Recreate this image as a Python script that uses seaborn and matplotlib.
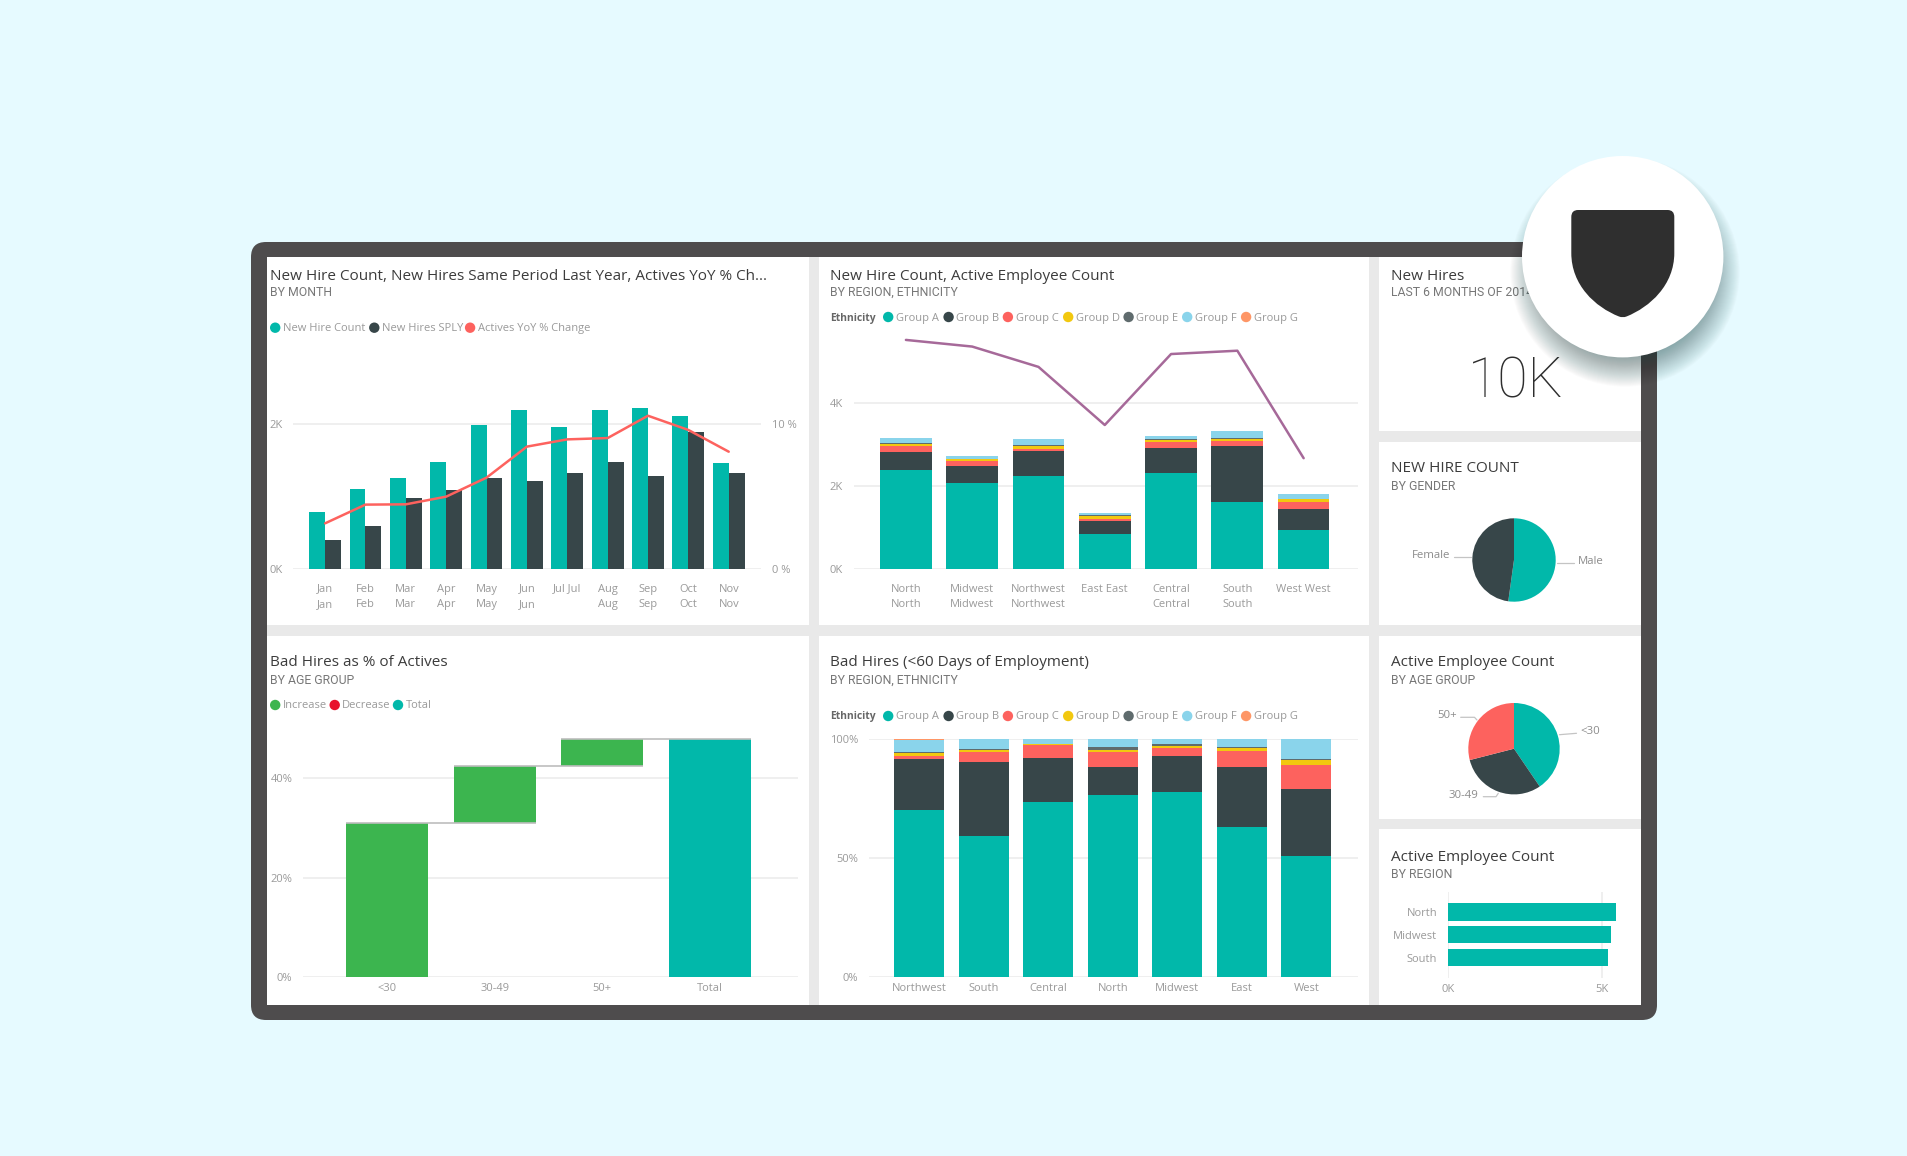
import numpy as np
import pandas as pd
import seaborn as sns
import matplotlib.pyplot as plt
from matplotlib.patches import Circle, FancyBboxPatch, PathPatch, Rectangle
from matplotlib.path import Path

W, H = 1908, 1156

TEAL = '#01b8aa'
DARK = '#374649'
CORAL = '#fd625e'
YELLOW = '#f2c80f'
SLATE = '#5f6b6d'
SKY = '#8ad4eb'
ORANGE = '#fe9666'
PURPLE = '#a66999'
GREEN = '#3cb54f'
RED = '#e8112d'
GRID = '#eeeeee'
TICK = '#9a9a9a'

# new hires by month
months = ['Jan\nJan', 'Feb\nFeb', 'Mar\nMar', 'Apr\nApr', 'May\nMay', 'Jun\nJun', 'Jul Jul',
          'Aug\nAug', 'Sep\nSep', 'Oct\nOct', 'Nov\nNov']
new_hires = [0.78, 1.11, 1.25, 1.48, 1.99, 2.19, 1.96, 2.19, 2.22, 2.11, 1.46]
new_hires_sply = [0.40, 0.59, 0.98, 1.09, 1.26, 1.21, 1.32, 1.47, 1.28, 1.89, 1.32]
actives_yoy = [3.15, 4.44, 4.46, 4.99, 6.30, 8.44, 8.94, 9.03, 10.57, 9.59, 8.09]

# new hires + actives by region
groups = ['Group A', 'Group B', 'Group C', 'Group D', 'Group E', 'Group F', 'Group G']
group_colors = [TEAL, DARK, CORAL, YELLOW, SLATE, SKY, ORANGE]
regions = ['North\nNorth', 'Midwest\nMidwest', 'Northwest\nNorthwest', 'East East',
           'Central\nCentral', 'South\nSouth', 'West West']
hire_a = [2.39, 2.08, 2.25, 0.84, 2.31, 1.61, 0.94]
hire_b = [0.43, 0.40, 0.59, 0.31, 0.61, 1.36, 0.51]
hire_c = [0.15, 0.13, 0.06, 0.06, 0.15, 0.11, 0.16]
hire_d = [0.04, 0.03, 0.06, 0.06, 0.03, 0.06, 0.07]
hire_e = [0.02, 0.02, 0.02, 0.02, 0.03, 0.02, 0.01]
hire_f = [0.13, 0.06, 0.15, 0.06, 0.08, 0.17, 0.11]
hire_g = [0.00, 0.00, 0.00, 0.00, 0.00, 0.00, 0.00]
active_line = [5.52, 5.36, 4.87, 3.47, 5.18, 5.26, 2.67]

# bad hires waterfall
age_groups = ['<30', '30-49', '50+', 'Total']
bad_steps = [31.0, 11.4, 5.4]

# bad hires by region, percent
bad_regions = ['Northwest', 'South', 'Central', 'North', 'Midwest', 'East', 'West']
bad_a = [70.3, 59.2, 73.7, 76.4, 77.9, 62.9, 51.0]
bad_b = [21.5, 31.2, 18.5, 11.9, 15.0, 25.2, 27.9]
bad_c = [1.0, 4.2, 5.1, 6.3, 3.3, 6.9, 10.2]
bad_d = [1.2, 0.7, 0.6, 0.7, 0.9, 1.4, 2.2]
bad_e = [0.4, 0.6, 0.1, 1.4, 0.7, 0.1, 0.4]
bad_f = [5.2, 4.2, 1.9, 3.2, 2.2, 3.5, 8.3]
bad_g = [0.4, 0.0, 0.1, 0.1, 0.0, 0.0, 0.0]

gender_share = [52.2, 47.8]
age_share = [40.5, 30.5, 29.0]
active_regions = ['North', 'Midwest', 'South']
active_by_region = [5.47, 5.31, 5.22]

sns.set_theme(style='white')
plt.rcParams['font.family'] = ['Open Sans', 'DejaVu Sans']

fig = plt.figure(figsize=(W / 100, H / 100), dpi=100, facecolor='#e6faff')


def px_axes(x0, x1, y_top, y_bottom, zorder=2):
    ax = fig.add_axes([x0 / W, 1 - y_bottom / H, (x1 - x0) / W, (y_bottom - y_top) / H], zorder=zorder)
    ax.patch.set_alpha(0)
    sns.despine(ax=ax, left=True, bottom=True)
    return ax


def style_axis(ax, pad_x=10, grid='y'):
    ax.set_xlabel('')
    ax.set_ylabel('')
    ax.tick_params(axis='x', length=0, pad=pad_x, labelsize=8.0, labelcolor=TICK)
    ax.tick_params(axis='y', length=0, pad=7.6, labelsize=8.0, labelcolor=TICK)
    for label in ax.get_xticklabels():
        label.set_linespacing(1.55)
    ax.set_axisbelow(True)
    ax.grid(True, axis=grid, color=GRID, lw=1.3)


def stack_bars(ax, cats, series, width):
    bottom = np.zeros(len(cats))
    for vals, color in zip(series, group_colors):
        sns.barplot(x=cats, y=vals, bottom=bottom, color=color, width=width, saturation=1,
                    linewidth=0, ax=ax)
        bottom += np.array(vals)


# page: background, frame, panels, titles
page = px_axes(0, W, 0, H, zorder=0)
page.set_xlim(0, W)
page.set_ylim(H, 0)
page.axis('off')
page.add_patch(FancyBboxPatch((251, 242), 1406, 778, boxstyle='round,pad=0,rounding_size=15',
                              fc='#4e4c4d', lw=0))
page.add_patch(Rectangle((267, 257), 1374, 748, fc='#e9e9e9', lw=0))
panels = [(267, 257, 809, 625), (819, 257, 1369, 625), (1379, 257, 1641, 431), (1379, 442, 1641, 625),
          (267, 636, 809, 1005), (819, 636, 1369, 1005), (1379, 636, 1641, 819), (1379, 829, 1641, 1005)]
for x0, y0, x1, y1 in panels:
    page.add_patch(Rectangle((x0, y0), x1 - x0, y1 - y0, fc='white', lw=0))


def heading(x, y, title, sub, dy=2):
    page.text(x, y + dy, title, fontsize=11.0, color='#3c3c3c', va='center', ha='left')
    page.text(x, y + 18.5, sub, fontsize=8.8, color='#777777', va='center', ha='left',
              family=['Roboto', 'DejaVu Sans'])


def legend_row(y, labels, colors, dots, texts):
    for lab, col, cx, tx in zip(labels, colors, dots, texts):
        page.add_patch(Circle((cx, y), 5.2, fc=col, lw=0))
        page.text(tx, y + 1, lab, fontsize=8.0, color=TICK, va='center', ha='left')


heading(269.6, 274, 'New Hire Count, New Hires Same Period Last Year, Actives YoY % Ch...', 'BY MONTH')
heading(830, 274, 'New Hire Count, Active Employee Count', 'BY REGION, ETHNICITY')
heading(1390.7, 274, 'New Hires', 'LAST 6 MONTHS OF 2014')
heading(1390.7, 468, 'NEW HIRE COUNT', 'BY GENDER', dy=1)
heading(269.6, 662, 'Bad Hires as % of Actives', 'BY AGE GROUP', dy=1)
heading(830, 662, 'Bad Hires (<60 Days of Employment)', 'BY REGION, ETHNICITY', dy=1)
heading(1390.7, 662, 'Active Employee Count', 'BY AGE GROUP', dy=1)
heading(1390.7, 856.5, 'Active Employee Count', 'BY REGION', dy=1)

legend_row(327.7, ['New Hire Count', 'New Hires SPLY', 'Actives YoY % Change'], [TEAL, DARK, CORAL],
           [275.2, 374.3, 470.1], [282.6, 381.7, 477.9])
legend_row(705, ['Increase', 'Decrease', 'Total'], [GREEN, RED, TEAL],
           [275.2, 334.7, 398], [282.6, 342.1, 405.8])
dots = [888.2, 948.6, 1007.9, 1068.2, 1128.6, 1187.2, 1246.1]
texts = [896.1, 956.4, 1015.7, 1075.7, 1136.4, 1195, 1253.6]
for y in (317, 716):
    page.text(830, y + 1, 'Ethnicity', fontsize=7.4, color='#666666', fontweight='bold', va='center', ha='left')
    legend_row(y, groups, group_colors, dots, texts)

page.text(1515.5, 382, '10K', fontsize=40, color='#2e2e2e', va='center', ha='center',
          family=['Roboto', 'DejaVu Sans'], fontweight='light')

# new hires by month
ax = px_axes(293.3, 761, 569 - 3.1 * 72.5, 569)
df = pd.DataFrame({'month': months * 2, 'count': new_hires + new_hires_sply,
                   'series': ['New Hire Count'] * 11 + ['New Hires SPLY'] * 11})
sns.barplot(df, x='month', y='count', hue='series', palette=[TEAL, DARK], width=0.79, gap=0,
            saturation=1, linewidth=0, legend=False, ax=ax)
ax.set_xlim(-0.788, 10.8)
ax.set_ylim(0, 3.1)
ax.set_yticks([0, 2], ['0K', '2K'])
style_axis(ax, pad_x=10.5)
ax2 = ax.twinx()
ax2.patch.set_alpha(0)
sns.despine(ax=ax2, left=True, right=True, bottom=True)
sns.lineplot(x=np.arange(len(months)), y=actives_yoy, color=CORAL, lw=1.8, errorbar=None, ax=ax2)
ax2.set_ylim(0, 15.5)
ax2.set_yticks([0, 10], ['0 %', '10 %'])
ax2.tick_params(axis='y', length=0, pad=8, labelsize=8.0, labelcolor=TICK)
ax2.set_ylabel('')

# hires by region, stacked, with active employee line
ax = px_axes(853.6, 1358, 569 - 5.8 * 41.5, 569)
stack_bars(ax, regions, [hire_a, hire_b, hire_c, hire_d, hire_e, hire_f, hire_g], 0.78)
sns.lineplot(x=np.arange(len(regions)), y=active_line, color=PURPLE, lw=1.8, errorbar=None, ax=ax)
ax.set_xlim(-0.789, 6.82)
ax.set_ylim(0, 5.8)
ax.set_yticks([0, 2, 4], ['0K', '2K', '4K'])
style_axis(ax, pad_x=10.5)

# waterfall, one bar per call so each keeps its own floor
ax = px_axes(302.9, 797.5, 977.3 - 50 * 4.975, 977.3)
tops = np.cumsum(bad_steps)
starts = np.concatenate([[0], tops[:-1]])
for cat, step, start in zip(age_groups, bad_steps, starts):
    sns.barplot(x=[cat], y=[step], bottom=start, order=age_groups, color=GREEN, width=0.765,
                saturation=1, linewidth=0, ax=ax)
sns.barplot(x=[age_groups[-1]], y=[tops[-1]], order=age_groups, color=TEAL, width=0.765,
            saturation=1, linewidth=0, ax=ax)
for i, top in enumerate(tops):
    ax.hlines(top, i - 0.3825, i + 1.3825, color='#bdbdbd', lw=1.2, zorder=3)
ax.set_xlim(-0.785, 3.816)
ax.set_ylim(0, 50)
ax.set_yticks([0, 20, 40], ['0%', '20%', '40%'])
style_axis(ax, pad_x=4)

# bad hires, 100% stacked
ax = px_axes(868.6, 1358, 739, 977.3)
stack_bars(ax, bad_regions, [bad_a, bad_b, bad_c, bad_d, bad_e, bad_f, bad_g], 0.776)
ax.set_xlim(-0.786, 6.80)
ax.set_ylim(0, 100)
ax.set_yticks([0, 50, 100], ['0%', '50%', '100%'])
style_axis(ax, pad_x=4)

# active by region
ax = px_axes(1447.7, 1447.7 + 6 * 30.8, 891.7, 978)
sns.barplot(x=active_by_region, y=active_regions, color=TEAL, width=0.76, saturation=1, linewidth=0,
            orient='h', ax=ax)
ax.set_xlim(0, 6)
ax.set_ylim(2.9, -0.89)
ax.set_xticks([0, 5], ['0K', '5K'])
style_axis(ax, pad_x=4, grid='x')


# pies, clockwise from the top
def pie_at(cx, cy, r, shares, colors):
    a = px_axes(cx - r, cx + r, cy - r, cy + r)
    a.pie(shares, colors=colors, startangle=90, counterclock=False, radius=1,
          wedgeprops={'lw': 0})
    a.set_xlim(-1, 1)
    a.set_ylim(-1, 1)


pie_at(1514, 560, 41.7, gender_share, [TEAL, DARK])
pie_at(1514, 748.7, 45.7, age_share, [TEAL, DARK, CORAL])

pie_labels = [('Female', 1430.7, 555), ('Male', 1590.7, 562), ('<30', 1590.7, 731),
              ('50+', 1446.7, 715.7), ('30-49', 1463, 795)]
for lab, x, y in pie_labels:
    page.text(x, y, lab, fontsize=8.2, color='#8c8c8c', va='center', ha='center')
leaders = [([1454, 1471], [556.7, 556.7]), ([1557, 1574], [563, 563]),
           ([1559.5, 1576.5], [734.7, 733.3]), ([1460.7, 1474.5, 1477], [717.3, 717.3, 720]),
           ([1483.3, 1496, 1498.3], [796.7, 796.7, 793.3])]
for xs, ys in leaders:
    page.plot(xs, ys, color='#c4c4c4', lw=0.9)

# shield badge on top of everything
top = px_axes(0, W, 0, H, zorder=10)
top.set_xlim(0, W)
top.set_ylim(H, 0)
top.axis('off')
for grow in np.linspace(14, -14, 30):
    top.add_patch(Circle((1625, 272), 100.7 + grow, fc='#123a3a', alpha=0.015, lw=0))
top.add_patch(Circle((1622.7, 256.7), 100.7, fc='white', lw=0))
verts = [(1578, 210), (1667.6, 210), (1674.3, 210), (1674.3, 217), (1674.3, 253),
         (1674.3, 285), (1650, 307), (1626.5, 316.5), (1622.8, 318), (1619, 316.5),
         (1595, 307), (1571.3, 285), (1571.3, 253), (1571.3, 217), (1571.3, 210), (1578, 210), (1578, 210)]
codes = [Path.MOVETO, Path.LINETO, Path.CURVE3, Path.CURVE3, Path.LINETO,
         Path.CURVE4, Path.CURVE4, Path.CURVE4, Path.CURVE3, Path.CURVE3,
         Path.CURVE4, Path.CURVE4, Path.CURVE4, Path.LINETO, Path.CURVE3, Path.CURVE3, Path.CLOSEPOLY]
top.add_patch(PathPatch(Path(verts, codes), fc='#2f2f2f', lw=0))

fig.savefig('out.png', dpi=100, facecolor=fig.get_facecolor())
